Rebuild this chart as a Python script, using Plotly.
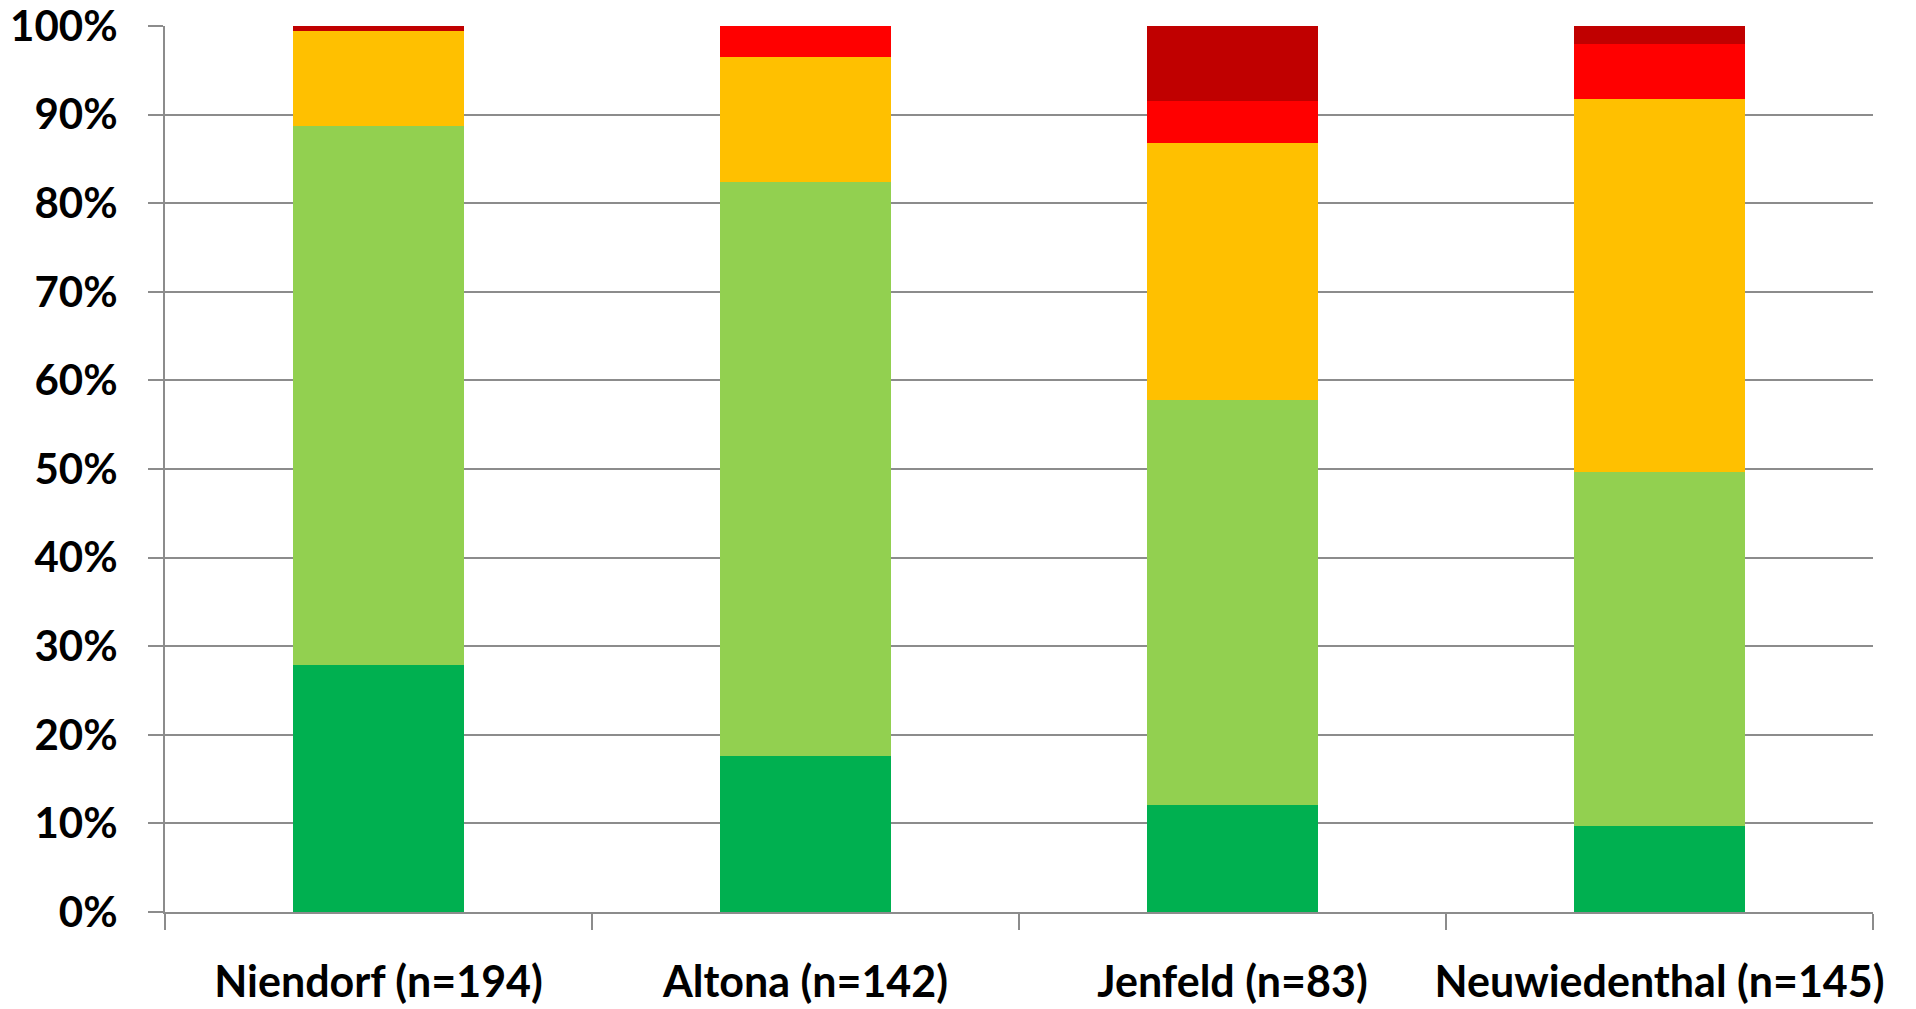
import plotly.graph_objects as go

# Districts surveyed (sample size in the label)
districts = ["Niendorf (n=194)", "Altona (n=142)", "Jenfeld (n=83)", "Neuwiedenthal (n=145)"]

# Response counts per rating level, stacked bottom to top
sehr_gut = [54, 25, 10, 14]
gut = [118, 92, 38, 58]
mittel = [21, 20, 24, 61]
schlecht = [0, 5, 4, 9]
sehr_schlecht = [1, 0, 7, 3]

series = [
    ("sehr gut", sehr_gut, "#00B050"),
    ("gut", gut, "#92D050"),
    ("mittel", mittel, "#FFC000"),
    ("schlecht", schlecht, "#FF0000"),
    ("sehr schlecht", sehr_schlecht, "#C00000"),
]

y_ticks = list(range(0, 101, 10))

fig = go.Figure()
for name, values, color in series:
    fig.add_trace(go.Bar(
        x=districts, y=values, name=name,
        marker=dict(color=color, line=dict(width=0)),
        showlegend=False,
    ))

font_family = "Lato, 'Liberation Sans', sans-serif"

fig.update_layout(
    barmode="stack",
    barnorm="percent",
    bargap=0.6,
    width=1916, height=1009,
    margin=dict(l=165, r=43, t=26, b=97),
    paper_bgcolor="white",
    plot_bgcolor="white",
    font=dict(family=font_family, size=42, color="black"),
)

fig.update_xaxes(
    type="category",
    tickson="boundaries",
    ticks="outside", ticklen=16, tickwidth=2, tickcolor="#8C8C8C",
    showline=True, linecolor="#8C8C8C", linewidth=2,
    showgrid=False,
    tickangle=0,
    automargin=False,
    ticklabeloverflow="allow",
    tickfont=dict(family=font_family, size=43, color="black", weight="bold"),
    ticklabelstandoff=31,
)

fig.update_yaxes(
    range=[0, 100],
    tickvals=y_ticks,
    ticktext=[f"{v}%" for v in y_ticks],
    ticks="outside", ticklen=15, tickwidth=2, tickcolor="#8C8C8C",
    showline=True, linecolor="#8C8C8C", linewidth=2,
    showgrid=True, gridcolor="#8C8C8C", gridwidth=2,
    zeroline=False,
    automargin=False,
    ticklabeloverflow="allow",
    tickfont=dict(family=font_family, size=42, color="black", weight="bold"),
    ticklabelstandoff=22,
)

fig.write_html("out.html")
